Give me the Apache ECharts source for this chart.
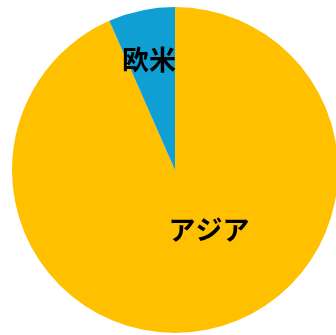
<!DOCTYPE html>
<html>
<head>
<meta charset="utf-8">
<script src="https://cdn.jsdelivr.net/npm/echarts@6/dist/echarts.min.js"></script>
<style>
  html, body { margin: 0; padding: 0; background: #fff; }
  #chart { width: 336px; height: 335px; }
</style>
</head>
<body>
<div id="chart"></div>
<script>
// Regional share
const categories = ['アジア', '欧米'];
const shares = [93.4, 6.6];
const colors = ['#FFC000', '#0F9FD3'];

// Label anchor points within the chart (px)
const labelSpots = [[209, 230], [149, 60]];

const chart = echarts.init(document.getElementById('chart'));
chart.setOption({
  animation: false,
  series: [{
    type: 'pie',
    center: [175, 170],
    radius: [0, 163],
    startAngle: 90,
    clockwise: true,
    silent: true,
    label: {
      show: true,
      position: 'inside',
      formatter: '{b}',
      color: '#000',
      fontSize: 27,
      fontWeight: 'bold',
      fontFamily: '"Noto Sans CJK JP", sans-serif'
    },
    labelLine: { show: false },
    labelLayout: function (p) {
      const s = labelSpots[p.dataIndex];
      return { x: s[0], y: s[1], align: 'center', verticalAlign: 'middle' };
    },
    itemStyle: { borderWidth: 0 },
    data: categories.map((name, i) => ({
      name: name,
      value: shares[i],
      itemStyle: { color: colors[i] }
    }))
  }]
});
</script>
</body>
</html>
